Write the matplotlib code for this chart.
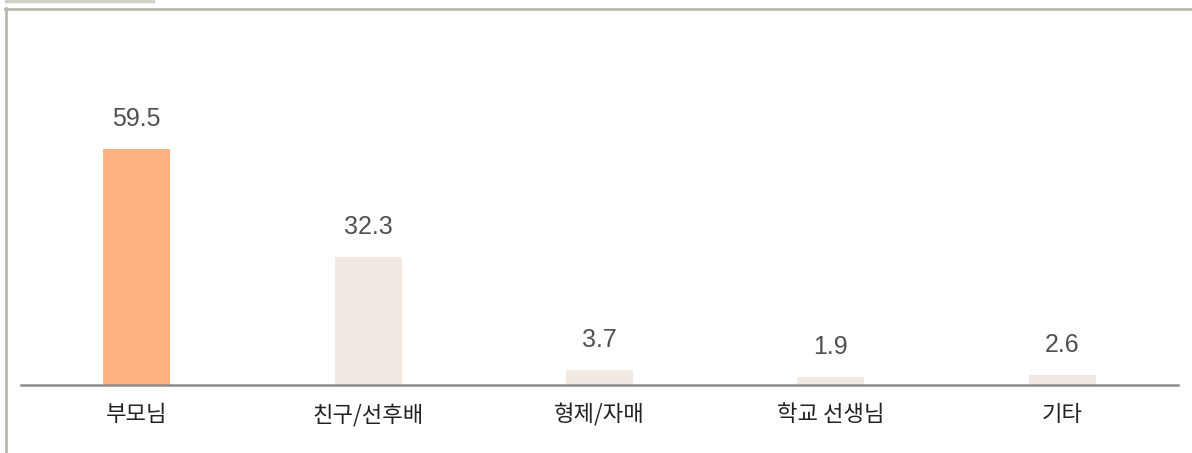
import matplotlib
matplotlib.use("Agg")
import matplotlib.pyplot as plt
from matplotlib.lines import Line2D

plt.rcParams['font.family'] = ['Noto Sans CJK KR', 'DejaVu Sans']

categories = ["부모님", "친구/선후배", "형제/자매", "학교 선생님", "기타"]
values = [59.5, 32.3, 3.7, 1.9, 2.6]
bar_colors = ["#FFB27F", "#F2EAE2", "#F2EAE2", "#F2EAE2", "#F2EAE2"]

W, H = 1192, 453
fig = plt.figure(figsize=(W / 100, H / 100), dpi=100)
fig.patch.set_facecolor("white")

# axes placed in pixel terms: x 21..1178, baseline at y=385
ax = fig.add_axes([21 / W, (H - 385) / H, (1178 - 21) / W, (385 - 9) / H])
x = list(range(len(categories)))
ax.bar(x, values, width=0.29, color=bar_colors, zorder=2)
ax.set_xlim(-0.5, len(categories) - 0.5)
ax.set_ylim(0, 94.7)

for xi, v in zip(x, values):
    ax.annotate(f"{v}", (xi, v), xytext=(0, 13), textcoords="offset points",
                ha="center", va="bottom", fontsize=18, color="#505050",
                family=["Liberation Sans", "DejaVu Sans"])

for s in ["top", "right", "left"]:
    ax.spines[s].set_visible(False)
ax.spines["bottom"].set_color("#8c8c8c")
ax.spines["bottom"].set_linewidth(1.8)
ax.set_yticks([])
ax.set_xticks(x)
ax.set_xticklabels(categories, fontsize=16, color="#222222")
ax.tick_params(axis="x", length=0, pad=13)
ax.set_facecolor("none")

# outer frame decorations
fig.add_artist(Line2D([6 / W, 153 / W], [1 - 1 / H, 1 - 1 / H], color="#d3cfcb", lw=2.5))
fig.add_artist(Line2D([5 / W, 1], [1 - 9 / H, 1 - 9 / H], color="#bcb9b4", lw=2))
fig.add_artist(Line2D([6 / W, 6 / W], [0, 1 - 8 / H], color="#bcb9b4", lw=2))

fig.savefig("out.png", dpi=100)
